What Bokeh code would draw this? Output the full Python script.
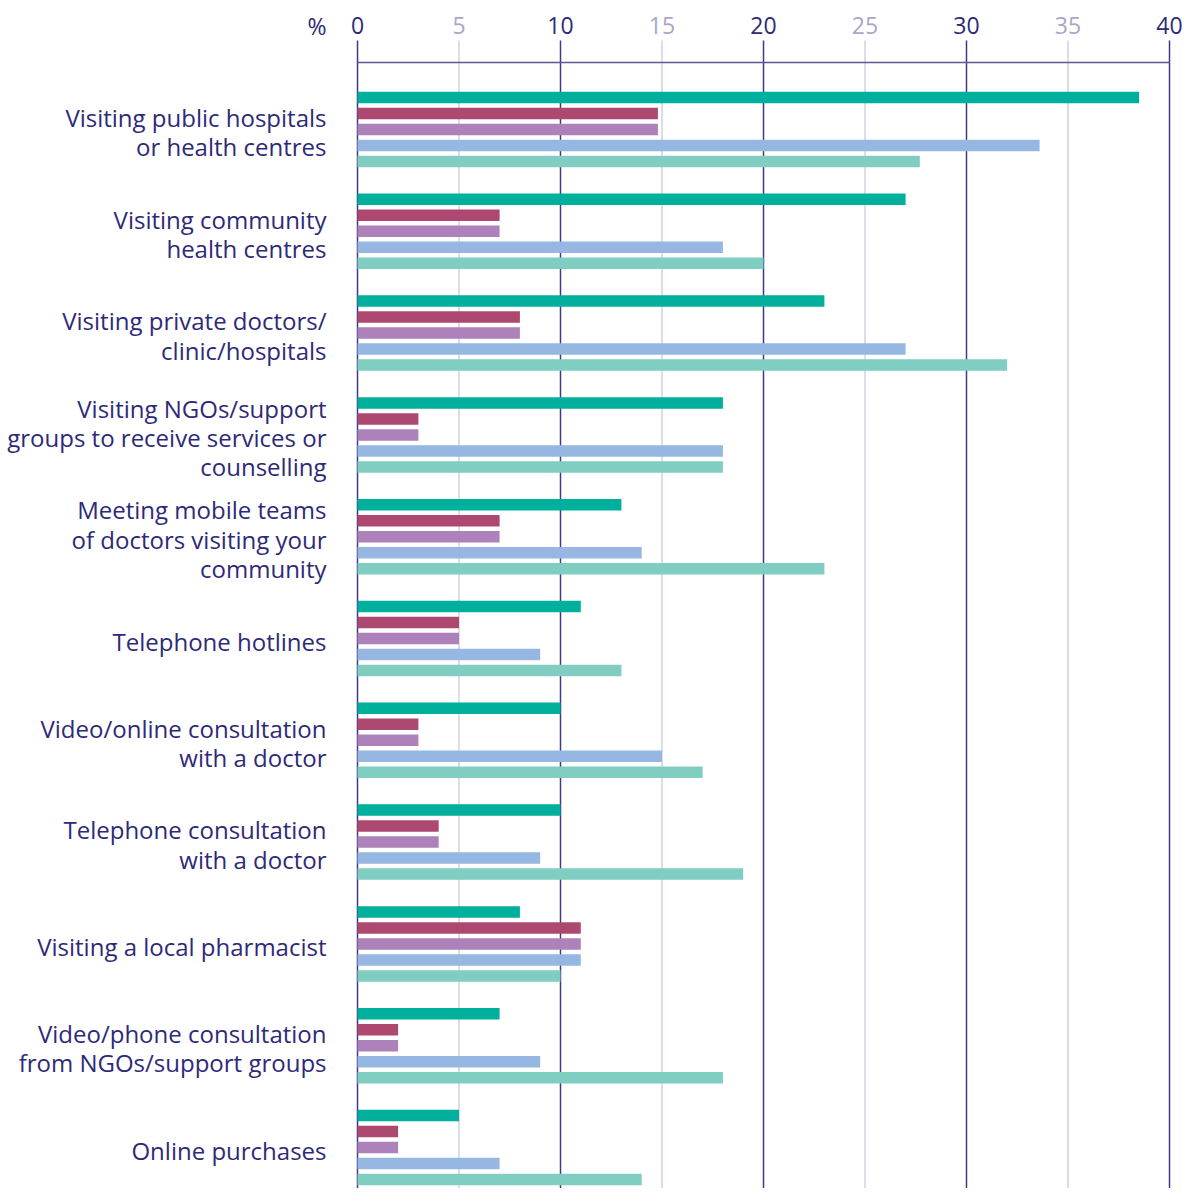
from bokeh.plotting import figure
from bokeh.models import Range1d, ColumnDataSource
from bokeh.core.properties import value
from bokeh.embed import file_html
from bokeh.resources import INLINE

# ---- data ----
categories = [
    "Visiting public hospitals\nor health centres",
    "Visiting community\nhealth centres",
    "Visiting private doctors/\nclinic/hospitals",
    "Visiting NGOs/support\ngroups to receive services or\ncounselling",
    "Meeting mobile teams\nof doctors visiting your\ncommunity",
    "Telephone hotlines",
    "Video/online consultation\nwith a doctor",
    "Telephone consultation\nwith a doctor",
    "Visiting a local pharmacist",
    "Video/phone consultation\nfrom NGOs/support groups",
    "Online purchases",
]
series_1 = [38.5, 27, 23, 18, 13, 11, 10, 10, 8, 7, 5]
series_2 = [14.8, 7, 8, 3, 7, 5, 3, 4, 11, 2, 2]
series_3 = [14.8, 7, 8, 3, 7, 5, 3, 4, 11, 2, 2]
series_4 = [33.6, 18, 27, 18, 14, 9, 15, 9, 11, 9, 7]
series_5 = [27.7, 20, 32, 18, 23, 13, 17, 19, 10, 18, 14]
all_series = [series_1, series_2, series_3, series_4, series_5]
colors = ["#00AF9C", "#AD4870", "#AD82BA", "#96B7E2", "#80CDC2"]

tick_values = [0, 5, 10, 15, 20, 25, 30, 35, 40]
tick_labels = ["0", "5", "10", "15", "20", "25", "30", "35", "40"]

# ---- layout ----
W, H = 1185, 1188
X0_PX, X40_PX = 357, 1169
sx = (X40_PX - X0_PX) / 40.0
x_start = -X0_PX / sx
x_end = x_start + W / sx

GROUP_PX = 101.8
FIRST_PX = 129
y_top = -FIRST_PX / GROUP_PX
y_bottom = y_top + H / GROUP_PX
BAR_STEP = 16 / GROUP_PX
BAR_H = 11.5 / GROUP_PX

TEXT = "#2E2A78"
DARK = "#3E3A86"
LIGHT = "#D2D0E3"
LIGHT_TXT = "#A9A6C8"
FONT = "Open Sans"

p = figure(width=W, height=H, output_backend="svg", toolbar_location=None,
           x_range=Range1d(x_start, x_end), y_range=Range1d(y_bottom, y_top),
           min_border=0, outline_line_color=None)
p.axis.visible = False
p.grid.visible = False

# grid lines
grid_top = y_top + 40 / GROUP_PX
gcol = [DARK if v % 10 == 0 else LIGHT for v in tick_values]
p.segment(x0=tick_values, x1=tick_values, y0=[grid_top] * len(tick_values),
          y1=[y_bottom] * len(tick_values), line_color=gcol, line_width=1.5)

# top horizontal line
hline_y = y_top + 62 / GROUP_PX
p.segment(x0=[0], x1=[40], y0=[hline_y], y1=[hline_y], line_color="#5C5790", line_width=1.5)

# tick labels
lab_y = y_top + 25 / GROUP_PX
tcol = [TEXT if v % 10 == 0 else LIGHT_TXT for v in tick_values]
p.text(x=tick_values, y=[lab_y] * len(tick_values), text=tick_labels, text_color=tcol,
       text_font=value(FONT), text_font_size="23px", text_align="center",
       text_baseline="middle")

label_x = -(X0_PX - 326) / sx
p.text(x=[label_x], y=[lab_y], text=["%"], text_color=TEXT, text_font=value(FONT),
       text_font_size="23px", text_align="right", text_baseline="middle")

# bars
idx = list(range(len(categories)))
for j, (vals, c) in enumerate(zip(all_series, colors)):
    ys = [i + (j - 2) * BAR_STEP for i in idx]
    src = ColumnDataSource(dict(y=ys, right=vals))
    p.hbar(y="y", left=0, right="right", height=BAR_H, source=src,
           fill_color=c, line_color=None)

# category labels
p.text(x=[label_x] * len(categories), y=[i + 0.025 for i in idx], text=categories,
       text_color=TEXT, text_font=value(FONT), text_font_size="24px",
       text_align="right", text_baseline="middle", text_line_height=0.89)

open("out.html", "w").write(file_html(p, INLINE))
